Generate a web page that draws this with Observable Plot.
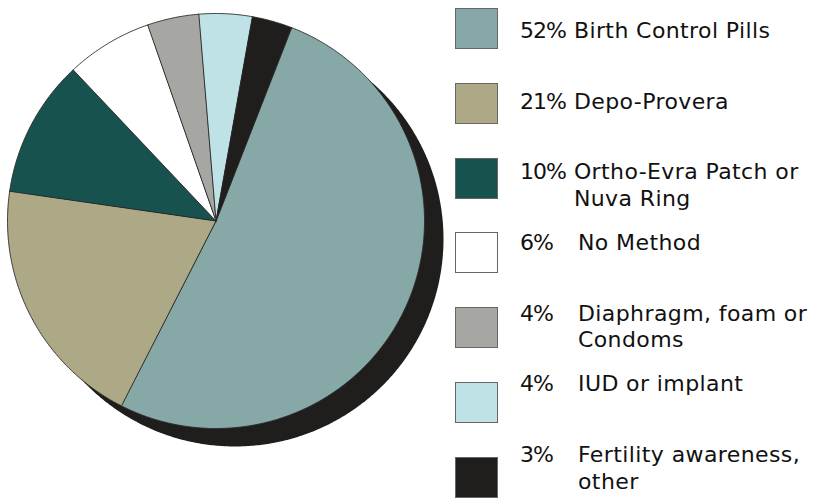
<!DOCTYPE html>
<html>
<head>
<meta charset="utf-8">
<script src="https://cdn.jsdelivr.net/npm/d3@7"></script>
<script src="https://cdn.jsdelivr.net/npm/@observablehq/plot@0.6"></script>
<style>
  html, body { margin: 0; padding: 0; background: #fff; }
  #wrap { position: relative; width: 815px; height: 502px; overflow: hidden; font-family: "DejaVu Sans", sans-serif; color: #111; }
  #chart { position: absolute; left: 0; top: 0; }
  #swatches { position: absolute; left: 455px; top: 8px; }
  .sw { width: 41px; height: 39px; border: 1px solid #666; margin-bottom: 33.8px; }
  #texts { position: absolute; left: 520px; top: 18px; font-size: 22px; line-height: 26.5px; }
  .row { display: flex; height: 70.7px; align-items: flex-start; }
  .pct { display: inline-block; margin-right: 8px; letter-spacing: -1px; }
  .lab { white-space: nowrap; letter-spacing: 0.4px; }
</style>
</head>
<body>
<div id="wrap">
  <div id="chart"></div>
  <div id="swatches"></div>
  <div id="texts"></div>
</div>
<script>
// ---- data ----
const categories = [
  "Birth Control Pills",
  "Depo-Provera",
  "Ortho-Evra Patch or Nuva Ring",
  "No Method",
  "Diaphragm, foam or Condoms",
  "IUD or implant",
  "Fertility awareness, other"
];
// percentages printed in the legend
const shares = [52, 21, 10, 6, 4, 4, 3];
// slice sizes as drawn in the picture
const sliceValues = [51.6, 19.8, 10.7, 6.7, 4.0, 4.1, 3.1];
const legendLines = [
  ["Birth Control Pills"],
  ["Depo-Provera"],
  ["Ortho-Evra Patch or", "Nuva Ring"],
  ["No Method"],
  ["Diaphragm, foam or", "Condoms"],
  ["IUD or implant"],
  ["Fertility awareness,", "other"]
];
const colors = ["#86a9a8", "#ada886", "#17524e", "#ffffff", "#a6a6a3", "#bee2e6", "#1f1e1c"];

// ---- geometry derived from data ----
const startDeg = 21.2; // first slice begins here, clockwise from 12 o'clock
const total = d3.sum(sliceValues);
const slicePts = [];
let acc = 0;
categories.forEach((c, i) => {
  const a0 = startDeg + acc / total * 360;
  acc += sliceValues[i];
  const a1 = startDeg + acc / total * 360;
  slicePts.push({key: c, x: 0, y: 0});
  const n = Math.max(2, Math.ceil((a1 - a0) / 0.5));
  for (let k = 0; k <= n; k++) {
    const a = (a0 + (a1 - a0) * k / n) * Math.PI / 180;
    slicePts.push({key: c, x: Math.sin(a), y: Math.cos(a)});
  }
});
const circlePts = d3.range(0, 360, 0.5).map(d => ({x: Math.sin(d * Math.PI / 180), y: Math.cos(d * Math.PI / 180)}));

const chart = Plot.plot({
  width: 450,
  height: 502,
  x: {domain: [-1, 1], range: [7, 424], axis: null},
  y: {domain: [-1, 1], range: [428, 13], axis: null},
  color: {domain: categories, range: colors},
  marks: [
    Plot.line(circlePts, {x: "x", y: "y", dx: 19, dy: 18, fill: "#1f1e1c", stroke: "none", curve: "linear-closed"}),
    Plot.line(slicePts, {x: "x", y: "y", z: "key", fill: "key", stroke: "#2a2a2a", strokeWidth: 0.9, strokeLinejoin: "round", curve: "linear-closed"})
  ]
});
document.getElementById("chart").appendChild(chart);

// ---- legend ----
const swatches = document.getElementById("swatches");
const texts = document.getElementById("texts");
categories.forEach((c, i) => {
  const sw = document.createElement("div");
  sw.className = "sw";
  sw.style.background = colors[i];
  swatches.appendChild(sw);

  const row = document.createElement("div");
  row.className = "row";
  const pct = document.createElement("span");
  pct.className = "pct";
  pct.textContent = shares[i] + "%";
  if (shares[i] < 10) pct.style.minWidth = "50px";
  const lab = document.createElement("span");
  lab.className = "lab";
  lab.innerHTML = legendLines[i].join("<br>");
  row.appendChild(pct);
  row.appendChild(lab);
  texts.appendChild(row);
});
</script>
</body>
</html>
